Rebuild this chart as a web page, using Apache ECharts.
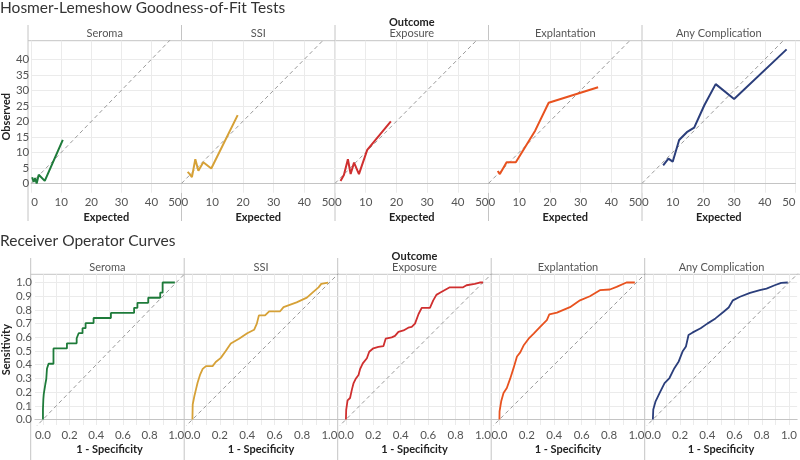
<!DOCTYPE html>
<html>
<head>
<meta charset="utf-8">
<script src="https://cdn.jsdelivr.net/npm/echarts@6/dist/echarts.min.js"></script>
<style>
  html, body { margin: 0; padding: 0; background: #fff; }
  #chart { width: 800px; height: 460px; }
</style>
</head>
<body>
<div id="chart"></div>
<script>
// outcomes (one panel each)
const outcomes = ['Seroma', 'SSI', 'Exposure', 'Explantation', 'Any Complication']
const lineColors = ['#1e7b3a', '#d6a137', '#cf2f2f', '#e8521f', '#2b3e7b']

// Hosmer-Lemeshow: expected vs observed per risk group
const seromaExpected = [0.3, 0.8, 1.3, 1.8, 2.5, 4.5, 10.5]
const seromaObserved = [2, 0.5, 1.7, 0, 2.8, 0.8, 14]
const ssiExpected = [2.0, 2.7, 3.4, 4.5, 5.5, 7.1, 9.7, 18.3]
const ssiObserved = [3.7, 3.0, 2.0, 7.8, 4.1, 6.8, 4.8, 22]
const exposureExpected = [1.8, 2.9, 4.2, 5.1, 6.2, 7.8, 10.5, 18.2]
const exposureObserved = [0.8, 2.7, 7.8, 3.0, 6.7, 3.0, 10.8, 20]
const explantExpected = [3.0, 3.7, 5.9, 8.9, 15.2, 19.6, 35.7]
const explantObserved = [4.0, 3.0, 6.8, 6.8, 17, 26, 31]
const anyExpected = [6.9, 8.6, 10.0, 12.1, 14.6, 17.0, 20.3, 24.0, 30.0, 47.1]
const anyObserved = [5.8, 8.0, 7.0, 14.0, 16.5, 18.0, 25.2, 32, 27.2, 43.2]

// ROC curves: 1 - specificity vs sensitivity
const seromaFpr = [0, 0, 0.003, 0.006, 0.018, 0.025, 0.03, 0.042, 0.079, 0.18, 0.253, 0.268, 0.297, 0.32, 0.38, 0.51, 0.684, 0.709, 0.79, 0.88, 0.898, 0.99]
const seromaTpr = [0, 0.074, 0.148, 0.185, 0.259, 0.296, 0.37, 0.407, 0.519, 0.556, 0.593, 0.63, 0.667, 0.704, 0.741, 0.778, 0.815, 0.852, 0.889, 0.926, 1.0, 1.0]
const ssiFpr = [0, 0.002, 0.014, 0.026, 0.038, 0.057, 0.075, 0.099, 0.147, 0.17, 0.207, 0.243, 0.28, 0.34, 0.40, 0.45, 0.47, 0.485, 0.53, 0.56, 0.64, 0.665, 0.76, 0.835, 0.88, 0.92, 0.94, 0.99]
const ssiTpr = [0, 0.11, 0.17, 0.22, 0.27, 0.33, 0.37, 0.39, 0.39, 0.42, 0.45, 0.50, 0.555, 0.59, 0.63, 0.655, 0.70, 0.76, 0.76, 0.79, 0.79, 0.82, 0.855, 0.89, 0.93, 0.965, 0.99, 1.0]
const exposureFpr = [0, 0.002, 0.012, 0.03, 0.044, 0.056, 0.073, 0.092, 0.104, 0.123, 0.153, 0.17, 0.2, 0.237, 0.274, 0.29, 0.334, 0.358, 0.383, 0.42, 0.455, 0.48, 0.504, 0.53, 0.553, 0.613, 0.637, 0.66, 0.686, 0.722, 0.758, 0.855, 0.88, 0.94, 0.976, 1.0]
const exposureTpr = [0, 0.07, 0.14, 0.157, 0.22, 0.266, 0.30, 0.325, 0.37, 0.41, 0.447, 0.495, 0.52, 0.53, 0.536, 0.59, 0.60, 0.61, 0.64, 0.65, 0.67, 0.676, 0.70, 0.77, 0.815, 0.815, 0.87, 0.91, 0.925, 0.945, 0.965, 0.965, 0.98, 0.99, 1.0, 1.0]
const explantFpr = [0, 0.001, 0.013, 0.03, 0.054, 0.079, 0.103, 0.128, 0.152, 0.176, 0.213, 0.25, 0.297, 0.346, 0.364, 0.42, 0.467, 0.515, 0.588, 0.66, 0.733, 0.806, 0.855, 0.927, 0.988]
const explantTpr = [0, 0.06, 0.133, 0.193, 0.23, 0.30, 0.375, 0.46, 0.49, 0.54, 0.59, 0.627, 0.677, 0.726, 0.767, 0.78, 0.80, 0.82, 0.87, 0.90, 0.944, 0.949, 0.968, 1.0, 1.0]
const anyFpr = [0, 0.003, 0.02, 0.05, 0.086, 0.122, 0.158, 0.19, 0.218, 0.243, 0.262, 0.29, 0.351, 0.40, 0.46, 0.52, 0.557, 0.588, 0.64, 0.714, 0.786, 0.835, 0.895, 0.943, 0.991]
const anyTpr = [0, 0.073, 0.133, 0.194, 0.266, 0.303, 0.375, 0.424, 0.496, 0.533, 0.617, 0.634, 0.666, 0.70, 0.738, 0.787, 0.818, 0.87, 0.896, 0.925, 0.944, 0.956, 0.98, 0.998, 1.0]

// reference diagonal (y = x) ends
const hlDiagonal = [0, 50]
const rocDiagonal = [-0.1, 1.1]

// tick values
const hlTicksX = [0, 10, 20, 30, 40, 50]
const hlTicksY = [0, 5, 10, 15, 20, 25, 30, 35, 40]
const rocLabelsX = [0, 0.2, 0.4, 0.6, 0.8, 1.0]
const rocGridX = [0, 0.1, 0.2, 0.3, 0.4, 0.5, 0.6, 0.7, 0.8, 0.9, 1.0]
const rocTicksY = [0, 0.1, 0.2, 0.3, 0.4, 0.5, 0.6, 0.7, 0.8, 0.9, 1.0]

const hlSets = [
  [seromaExpected, seromaObserved],
  [ssiExpected, ssiObserved],
  [exposureExpected, exposureObserved],
  [explantExpected, explantObserved],
  [anyExpected, anyObserved],
]
const rocSets = [
  [seromaFpr, seromaTpr],
  [ssiFpr, ssiTpr],
  [exposureFpr, exposureTpr],
  [explantFpr, explantTpr],
  [anyFpr, anyTpr],
]
const zip = (xs, ys) => xs.map((x, k) => [x, ys[k]])

const font = 'Lato, "Open Sans", sans-serif'
const gridColor = '#ebebeb'
const ruleColor = '#c4c4c4'

const panelW = 153.5
const topLeft = [28, 181.5, 335, 488.5, 642]
const botLeft = [30.7, 184.2, 337.7, 491.2, 644.7]
const topTop = 40.7, topH = 152
const botTop = 274.3, botH = 150.7

const grids = [], xAxes = [], yAxes = [], series = [], graphics = []

const nameStyle = { color: '#222', fontSize: 11, fontWeight: 'bold', fontFamily: font }
const labelStyle = { color: '#555', fontSize: 11.5, fontFamily: font }

// top row: Hosmer-Lemeshow
outcomes.forEach((name, i) => {
  grids.push({ left: topLeft[i], top: topTop, width: panelW, height: topH })
  xAxes.push({
    type: 'value', gridIndex: i, min: 0, max: 50,
    axisLine: { show: true, lineStyle: { color: ruleColor } },
    axisTick: { show: false, customValues: hlTicksX },
    axisLabel: Object.assign({ customValues: hlTicksX, margin: 4, alignMinLabel: 'left', alignMaxLabel: 'right' }, labelStyle),
    splitLine: { show: true, lineStyle: { color: gridColor } },
    name: 'Expected', nameLocation: 'middle', nameGap: 19, nameTextStyle: nameStyle,
  })
  yAxes.push({
    type: 'value', gridIndex: i, min: -3, max: 46,
    axisLine: { show: false },
    axisTick: { show: false, customValues: hlTicksY },
    axisLabel: Object.assign({ show: i === 0, customValues: hlTicksY, margin: 2 }, labelStyle),
    splitLine: { show: true, lineStyle: { color: gridColor } },
    name: i === 0 ? 'Observed' : '', nameLocation: 'middle', nameGap: 14, nameTextStyle: nameStyle,
  })
  series.push({
    type: 'line', xAxisIndex: i, yAxisIndex: i, silent: true,
    data: zip(hlDiagonal, hlDiagonal), showSymbol: false,
    lineStyle: { color: '#9a9a9a', width: 1, type: [4, 3] }, z: 1,
  })
  series.push({
    type: 'line', name, xAxisIndex: i, yAxisIndex: i,
    data: zip(hlSets[i][0], hlSets[i][1]), showSymbol: false,
    lineStyle: { color: lineColors[i], width: 2 }, z: 3,
  })
})

// bottom row: ROC curves
outcomes.forEach((name, i) => {
  const k = i + 5
  grids.push({ left: botLeft[i], top: botTop, width: panelW, height: botH })
  xAxes.push({
    type: 'value', gridIndex: k, min: -0.06, max: 1.06,
    axisLine: { show: true, lineStyle: { color: ruleColor } },
    axisTick: { show: false, customValues: rocGridX },
    axisLabel: Object.assign({ customValues: rocLabelsX, margin: 4, formatter: v => v.toFixed(1) }, labelStyle),
    splitLine: { show: true, lineStyle: { color: gridColor } },
    name: '1 - Specificity', nameLocation: 'middle', nameGap: 19, nameTextStyle: nameStyle,
  })
  yAxes.push({
    type: 'value', gridIndex: k, min: -0.04, max: 1.06,
    axisLine: { show: false },
    axisTick: { show: false, customValues: rocTicksY },
    axisLabel: Object.assign({ show: i === 0, customValues: rocTicksY, margin: 3, formatter: v => v.toFixed(1) }, labelStyle),
    splitLine: { show: true, lineStyle: { color: gridColor } },
    name: i === 0 ? 'Sensitivity' : '', nameLocation: 'middle', nameGap: 17, nameTextStyle: nameStyle,
  })
  series.push({
    type: 'line', xAxisIndex: k, yAxisIndex: k, silent: true,
    data: zip(rocDiagonal, rocDiagonal), showSymbol: false,
    lineStyle: { color: '#9a9a9a', width: 1, type: [4, 3] }, z: 1,
  })
  series.push({
    type: 'line', name, xAxisIndex: k, yAxisIndex: k,
    data: zip(rocSets[i][0], rocSets[i][1]), showSymbol: false,
    step: i === 0 ? 'end' : false,
    lineStyle: { color: lineColors[i], width: 1.8 }, z: 3,
  })
})

// panel frames and header texts
const text = (x, y, str, size, color, weight, align) => ({
  type: 'text', x, y, silent: true,
  style: { text: str, fill: color, fontSize: size, fontWeight: weight || 'normal', fontFamily: font, align: align || 'center', verticalAlign: 'middle' },
})
const rule = (x1, y1, x2, y2) => ({
  type: 'line', silent: true, shape: { x1, y1, x2, y2 }, style: { stroke: ruleColor, lineWidth: 1 },
})

graphics.push(text(0, 8, 'Hosmer-Lemeshow Goodness-of-Fit Tests', 15.5, '#333', 'normal', 'left'))
graphics.push(text(0, 241, 'Receiver Operator Curves', 15.5, '#333', 'normal', 'left'))
graphics.push(text(topLeft[2] + panelW / 2, 22.5, 'Outcome', 11, '#222', 'bold'))
graphics.push(text(botLeft[2] + panelW / 2, 256, 'Outcome', 11, '#222', 'bold'))
graphics.push(rule(28, topTop, 800, topTop))
graphics.push(rule(30.7, botTop, 800, botTop))
outcomes.forEach((name, i) => {
  graphics.push(text(topLeft[i] + panelW / 2, 33.5, name, 11, '#555'))
  graphics.push(text(botLeft[i] + panelW / 2, 267, name, 11, '#555'))
  graphics.push(rule(topLeft[i], 25, topLeft[i], 221))
  graphics.push(rule(botLeft[i], 258, botLeft[i], 460))
})

const chart = echarts.init(document.getElementById('chart'))
chart.setOption({
  animation: false,
  backgroundColor: '#fff',
  grid: grids,
  xAxis: xAxes,
  yAxis: yAxes,
  series,
  graphic: graphics,
})
</script>
</body>
</html>
